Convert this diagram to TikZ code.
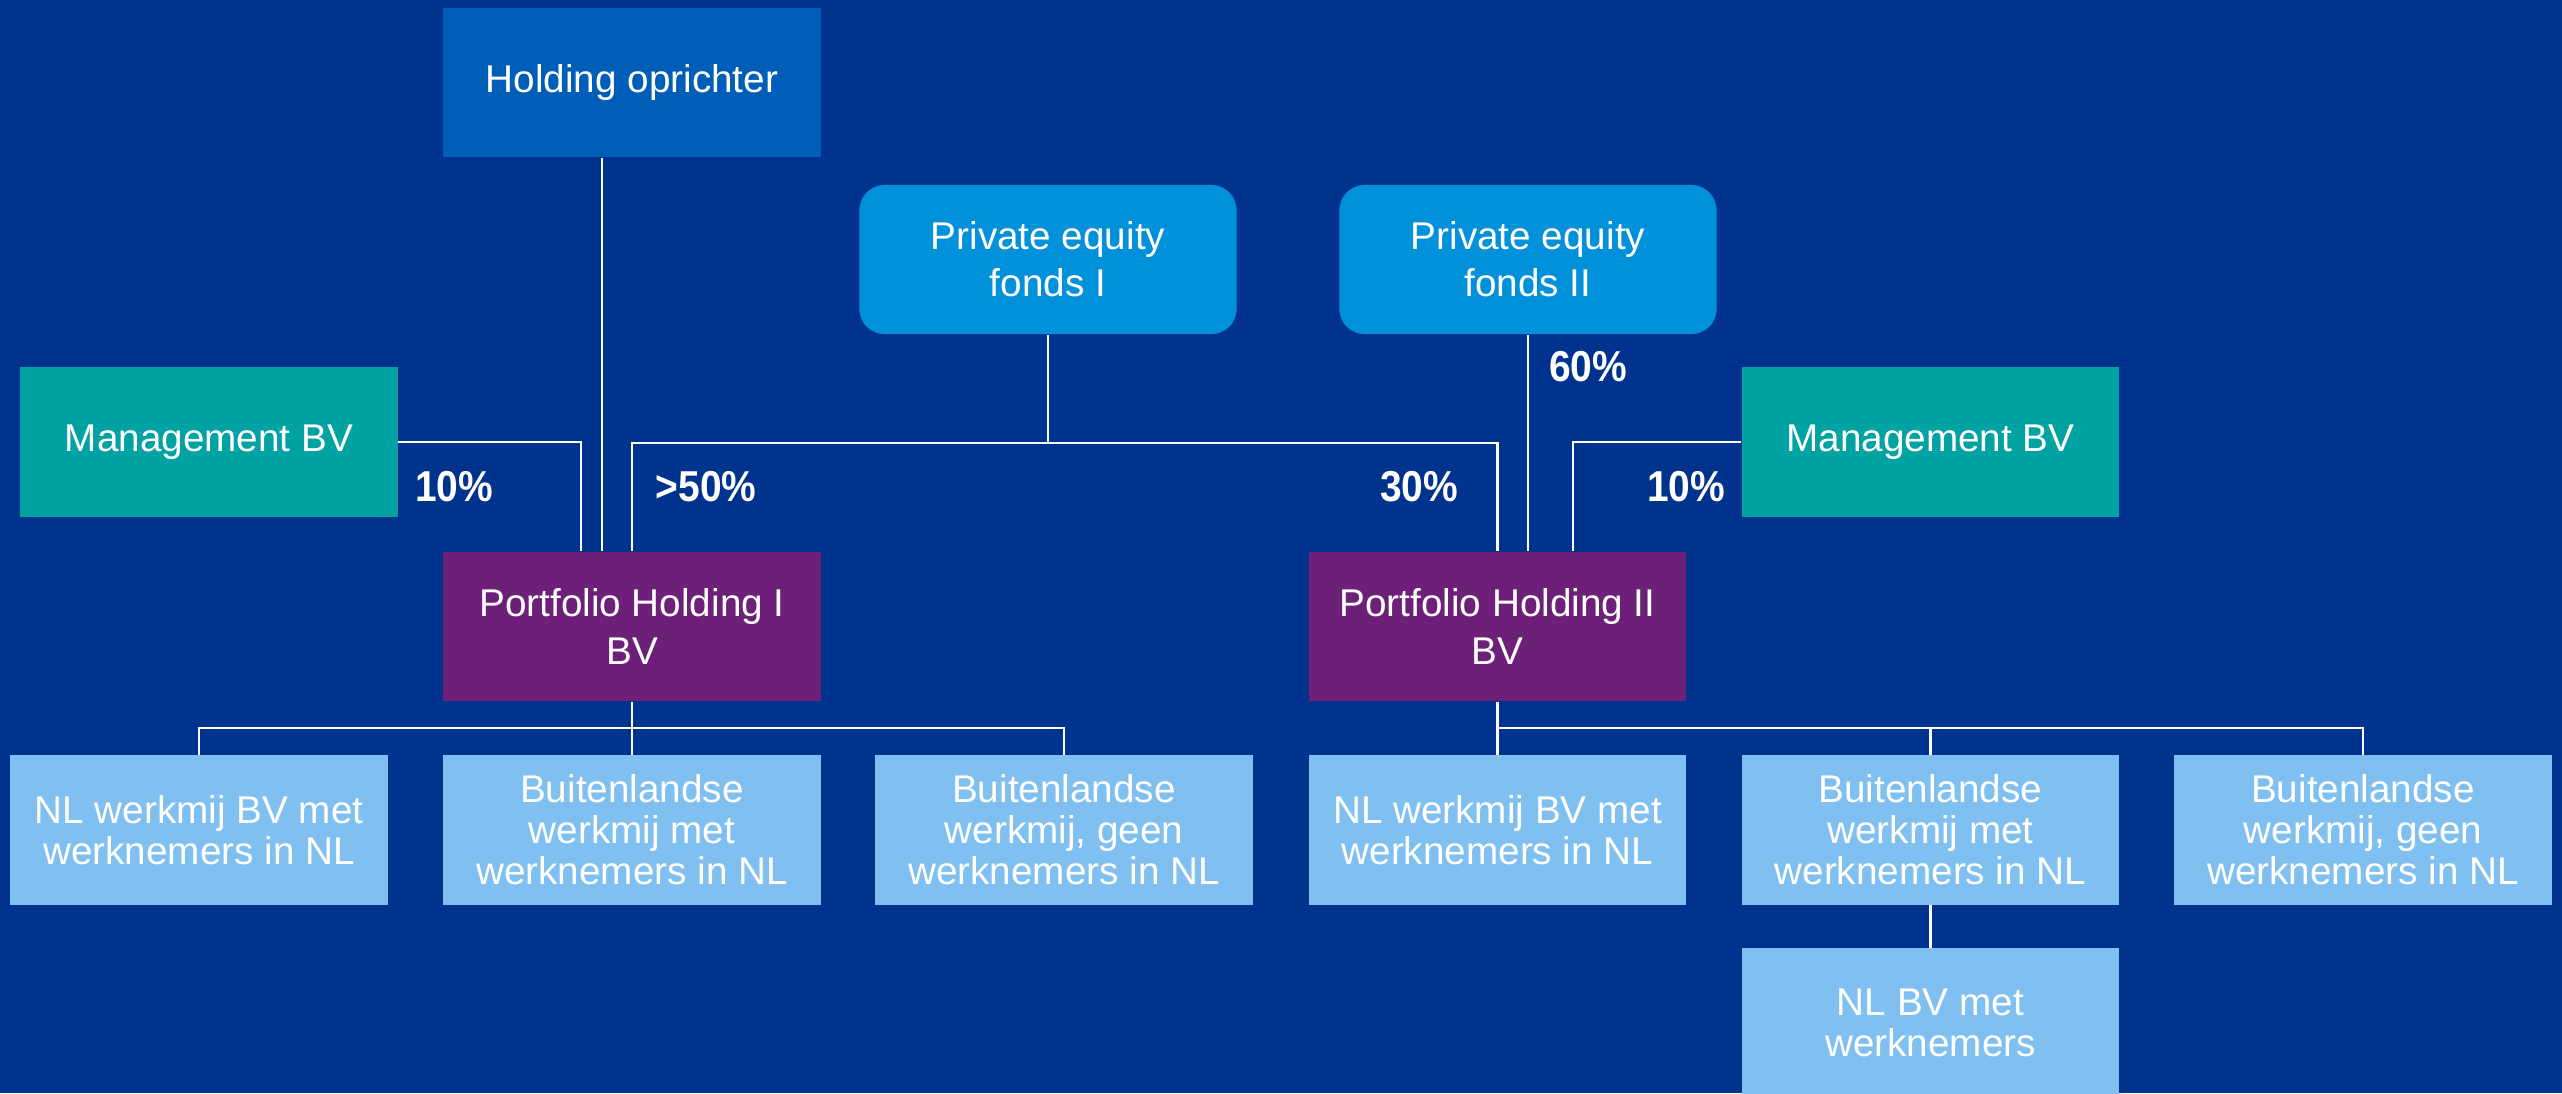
\documentclass[tikz,border=0pt]{standalone}
\usepackage{fontspec}
\setmainfont{Liberation Sans}
\newfontfamily\pctfont{Liberation Sans}[FakeStretch=0.9]
\definecolor{bgblue}{HTML}{00338D}
\definecolor{holdblue}{HTML}{005EB8}
\definecolor{peblue}{HTML}{0091DA}
\definecolor{mgteal}{HTML}{00A3A1}
\definecolor{pfpurple}{HTML}{6D2077}
\definecolor{lightbox}{HTML}{80C0F0}
\tikzset{
  box/.style={fill=#1, text=white, minimum width=3.77cm, minimum height=1.49cm,
    inner sep=0pt, align=center, font=\fontsize{11}{13.6}\selectfont},
  pebox/.style={box=peblue, rounded corners=0.25cm, font=\fontsize{11}{13.4}\selectfont},
  lowbox/.style={box=lightbox, font=\fontsize{11}{11.7}\selectfont},
  conn/.style={draw=white, line width=0.6pt},
  pct/.style={text=white, anchor=base, inner sep=0pt, font=\pctfont\bfseries\fontsize{12.3}{14}\selectfont}
}
\begin{document}
\begin{tikzpicture}[x=0.01cm, y=-0.01cm]
\path[use as bounding box] (0,0) rectangle (2562,1093);
\clip (0,0) rectangle (2562,1093);
\fill[bgblue] (0,0) rectangle (2562,1093);

% nodes
\node[box=holdblue] (hold) at (632,82.5) {Holding oprichter};
\node[pebox] (pe1) at (1048,259.5) {Private equity\\fonds I};
\node[pebox] (pe2) at (1528,259.5) {Private equity\\fonds II};
\node[box=mgteal] (mg1) at (209,442) {Management BV};
\node[box=mgteal] (mg2) at (1930.5,442) {Management BV};
\node[box=pfpurple] (p1) at (632,626.5) {Portfolio Holding I\\BV};
\node[box=pfpurple] (p2) at (1497.5,626.5) {Portfolio Holding II\\BV};

\node[lowbox] (b1) at (199,830) {NL werkmij BV met\\werknemers in NL};
\node[lowbox] (b2) at (632,830) {Buitenlandse\\werkmij met\\werknemers in NL};
\node[lowbox] (b3) at (1064,830) {Buitenlandse\\werkmij, geen\\werknemers in NL};
\node[lowbox] (b4) at (1497.5,830) {NL werkmij BV met\\werknemers in NL};
\node[lowbox] (b5) at (1930.5,830) {Buitenlandse\\werkmij met\\werknemers in NL};
\node[lowbox] (b6) at (2363,830) {Buitenlandse\\werkmij, geen\\werknemers in NL};
\node[lowbox] (nlbv) at (1930.5,1023) {NL BV met\\werknemers};

% junction coordinates
\coordinate (j1) at (1048,443);
\coordinate (k1) at (632,728);
\coordinate (k2) at (1497.5,728);

% connectors above
\draw[conn] ([xshift=-0.30cm]hold.south) -- ([xshift=-0.30cm]p1.north);
\draw[conn] (mg1.east) -| ([xshift=-0.51cm]p1.north);
\draw[conn] (pe1.south) -- (j1);
\draw[conn] (p1.north) |- (j1) -| (p2.north);
\draw[conn] (pe2.south) -- (pe2.south |- p2.north);
\draw[conn] (mg2.west) -| ([xshift=0.755cm]p2.north);

% connectors below
\draw[conn] (p1.south) -- (k1);
\draw[conn] (b1.north) |- (k1) -| (b3.north);
\draw[conn] (k1) -- (b2.north);
\draw[conn] (p2.south) -- (k2);
\draw[conn] (b4.north) |- (k2) -| (b6.north);
\draw[conn] (k2) -| (b5.north);
\draw[conn] (b5.south) -- (nlbv.north);

% percentages
\node[pct] (l1) at (454,501) {10\%};
\node[pct] (l2) at (706,501) {>50\%};
\node[pct] (l3) at (1419,501) {30\%};
\node[pct] (l4) at (1588,381) {60\%};
\node[pct] (l5) at (1686,501) {10\%};
\end{tikzpicture}
\end{document}
